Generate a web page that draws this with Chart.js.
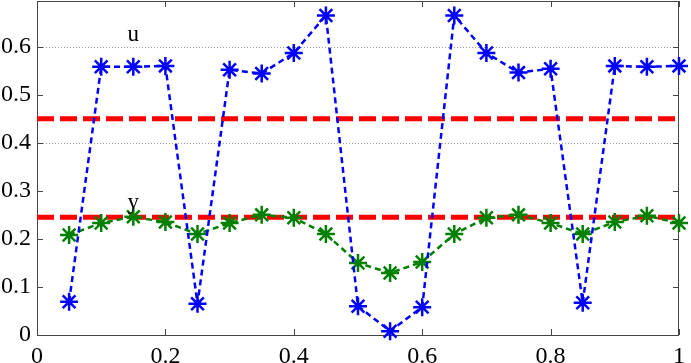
<!DOCTYPE html>
<html><head><meta charset="utf-8">
<script src="https://cdn.jsdelivr.net/npm/chart.js@4.4.0/dist/chart.umd.min.js"></script>
<style>html,body{margin:0;padding:0;background:#fff;overflow:hidden}#wrap{width:691px;height:363px}</style>
</head><body><div id="wrap"><canvas id="c" width="691" height="363"></canvas></div>
<script>
// ---- data ----
const xValues = [0.05,0.10,0.15,0.20,0.25,0.30,0.35,0.40,0.45,0.50,0.55,0.60,0.65,0.70,0.75,0.80,0.85,0.90,0.95,1.00];
const uValues = [0.069,0.558,0.558,0.560,0.065,0.552,0.544,0.587,0.665,0.060,0.008,0.058,0.665,0.587,0.546,0.554,0.067,0.560,0.558,0.560];
const yValues = [0.208,0.233,0.246,0.235,0.210,0.233,0.250,0.244,0.210,0.150,0.129,0.152,0.210,0.244,0.250,0.233,0.210,0.235,0.248,0.233];
const refUpper = 0.45;
const refLower = 0.245;
const xTickValues = [0,0.2,0.4,0.6,0.8,1];
const yTickValues = [0,0.1,0.2,0.3,0.4,0.5,0.6];
const gridValues = [0.4,0.6];
const textLabels = [{text:'u', x:0.15, y:0.625},{text:'y', x:0.15, y:0.275}];

const SERIF = "'Liberation Serif','Times New Roman',serif";

const toPts = (xs, ys) => xs.map((x,i)=>({x:x, y:ys[i]}));

const framePlugin = {
  id:'frame',
  beforeDatasetsDraw(chart){
    const {ctx, chartArea:a, scales:{x, y}} = chart;
    ctx.save();
    // dotted grid lines
    ctx.strokeStyle = '#a0a0a0';
    ctx.lineWidth = 1;
    ctx.setLineDash([1,2]);
    ctx.beginPath();
    gridValues.forEach(v=>{
      const py = Math.round(y.getPixelForValue(v))+0.5;
      ctx.moveTo(a.left, py); ctx.lineTo(a.right, py);
    });
    ctx.stroke();
    ctx.setLineDash([]);
    ctx.strokeStyle = '#444';
    ctx.strokeRect(a.left+0.5, a.top+0.5, a.right-a.left-1, a.bottom-a.top);
    ctx.beginPath();
    const tl = 6;
    yTickValues.forEach(v=>{
      const py = Math.round(y.getPixelForValue(v))+0.5;
      ctx.moveTo(a.left, py); ctx.lineTo(a.left+tl, py);
      ctx.moveTo(a.right, py); ctx.lineTo(a.right-tl, py);
    });
    xTickValues.forEach(v=>{
      const px = Math.round(x.getPixelForValue(v))+0.5;
      ctx.moveTo(px, a.bottom); ctx.lineTo(px, a.bottom-tl);
      ctx.moveTo(px, a.top); ctx.lineTo(px, a.top+tl);
    });
    ctx.stroke();
    ctx.restore();
  },
  afterDatasetsDraw(chart){
    const {ctx, scales:{x, y}} = chart;
    ctx.save();
    ctx.fillStyle = '#000';
    ctx.font = '23px ' + SERIF;
    ctx.textAlign = 'center';
    ctx.textBaseline = 'middle';
    textLabels.forEach(t=>{
      ctx.fillText(t.text, x.getPixelForValue(t.x), y.getPixelForValue(t.y));
    });
    ctx.restore();
  }
};

new Chart(document.getElementById('c'), {
  type:'line',
  data:{
    datasets:[
      {label:'u', data:toPts(xValues,uValues), borderColor:'#0000ff', backgroundColor:'#0000ff',
       borderWidth:2.5, borderDash:[6,4], pointStyle:'star', pointRadius:9, pointBorderWidth:2.5,
       pointBorderColor:'#0000ff', fill:false, tension:0, clip:false},
      {label:'y', data:toPts(xValues,yValues), borderColor:'#008000', backgroundColor:'#008000',
       borderWidth:2.5, borderDash:[6,4], pointStyle:'star', pointRadius:9, pointBorderWidth:2.5,
       pointBorderColor:'#008000', fill:false, tension:0, clip:false},
      {label:'ref1', data:[{x:0,y:refUpper},{x:1,y:refUpper}], borderColor:'#ff0000',
       borderWidth:5, borderDash:[17,6], pointRadius:0, fill:false},
      {label:'ref2', data:[{x:0,y:refLower},{x:1,y:refLower}], borderColor:'#ff0000',
       borderWidth:5, borderDash:[17,6], pointRadius:0, fill:false}
    ]
  },
  options:{
    responsive:false, animation:false, devicePixelRatio:1,
    layout:{autoPadding:false, padding:{top:1,right:12,left:0,bottom:0}},
    plugins:{legend:{display:false}, tooltip:{enabled:false}},
    scales:{
      x:{type:'linear', min:0, max:1,
         afterFit(s){ s.height = 28; s.paddingLeft = 0; s.paddingRight = 0; s.paddingTop = 0; s.paddingBottom = 0; },
         afterBuildTicks(s){ s.ticks = xTickValues.map(v=>({value:v})); },
         border:{display:false},
         grid:{display:false, drawTicks:false},
         ticks:{padding:7, color:'#000', font:{family:SERIF, size:24},
                callback:v=>String(+v.toFixed(1))}},
      y:{type:'linear', min:0, max:0.695,
         afterFit(s){ s.width = 37; s.paddingTop = 0; s.paddingBottom = 0; s.paddingLeft = 0; s.paddingRight = 0; },
         afterBuildTicks(s){ s.ticks = yTickValues.map(v=>({value:v})); },
         border:{display:false},
         grid:{display:false, drawTicks:false},
         ticks:{padding:6, color:'#000', font:{family:SERIF, size:24},
                callback:v=>String(+v.toFixed(1))}}
    }
  },
  plugins:[framePlugin]
});
</script></body></html>
